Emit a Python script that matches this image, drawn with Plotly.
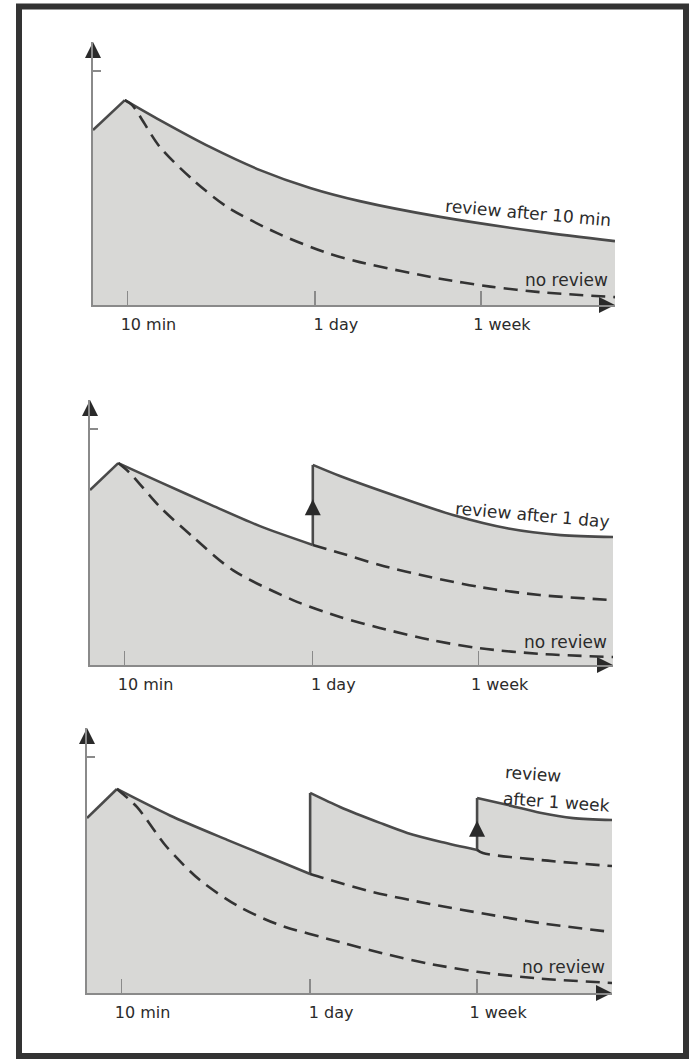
import plotly.graph_objects as go

# ---------------- data (schematic units: x 0..100 along time axis, y 0..100 retention) -------------
tick_x = [6.6, 42.5, 74.3]
tick_labels = ["10 min", "1 day", "1 week"]

# Panel 1: review after 10 min
p1_rise_x = [0, 6.1]
p1_rise_y = [66.5, 77.9]
p1_solid_x = [6.1, 12.8, 22.4, 32.0, 41.6, 51.1, 66.5, 85.6, 100]
p1_solid_y = [77.9, 70.3, 60.1, 51.3, 44.5, 39.5, 33.5, 27.8, 24.3]
p1_none_x = [6.1, 7.5, 12.8, 19.2, 25.7, 35.2, 44.8, 51.1, 66.5, 76.1, 85.6, 100]
p1_none_y = [77.9, 76.0, 60.1, 47.5, 37.3, 27.4, 19.8, 16.3, 10.0, 7.0, 4.9, 3.0]

# Panel 2: review after 1 day
p2_rise_x = [0, 5.4]
p2_rise_y = [66.0, 76.2]
p2_seg1_x = [5.4, 13.4, 22.9, 32.5, 42.6]
p2_seg1_y = [76.2, 69.0, 60.6, 52.4, 45.3]
p2_seg2_x = [42.6, 47.8, 59.3, 69.4, 80.0, 90.0, 100]
p2_seg2_y = [75.5, 71.3, 63.2, 56.6, 51.5, 49.0, 48.3]
p2_cont_x = [42.6, 47.8, 55.4, 65.0, 74.6, 86.0, 100]
p2_cont_y = [45.3, 42.3, 37.7, 33.2, 29.4, 26.4, 24.5]
p2_none_x = [5.4, 7.6, 13.4, 19.7, 27.3, 38.8, 47.8, 55.4, 65.0, 74.6, 86.0, 100]
p2_none_y = [76.2, 72.5, 59.6, 48.3, 35.8, 24.5, 18.1, 14.0, 9.5, 6.3, 4.2, 3.0]

# Panel 3: review after 1 week
p3_rise_x = [0, 5.7]
p3_rise_y = [66.0, 77.0]
p3_seg1_x = [5.7, 15.8, 26.7, 34.3, 42.5]
p3_seg1_y = [77.0, 67.0, 57.8, 51.6, 44.9]
p3_seg2_x = [42.5, 48.2, 55.8, 61.0, 67.5, 74.3]
p3_seg2_y = [75.5, 70.2, 64.2, 60.4, 57.0, 54.0]
p3_seg3_x = [74.3, 80.0, 86.3, 92.6, 100]
p3_seg3_y = [73.6, 71.0, 68.0, 66.0, 65.3]
p3_cont1_x = [42.5, 45.0, 54.5, 65.3, 76.0, 86.3, 100]
p3_cont1_y = [44.9, 43.4, 38.1, 33.6, 29.8, 26.4, 23.0]
p3_cont2_x = [74.3, 75.4, 86.3, 100]
p3_cont2_y = [54.0, 52.8, 50.2, 47.9]
p3_none_x = [5.7, 9.5, 15.2, 21.5, 28.6, 36.2, 48.2, 57.7, 65.3, 74.3, 86.0, 100]
p3_none_y = [77.0, 70.2, 55.1, 42.6, 33.0, 26.0, 19.2, 14.3, 11.0, 8.0, 5.5, 3.8]

# ---------------- styling -------------
W, H = 695, 1059
FILL = "#d8d8d6"
SOLID = "#4a4a4a"
DASH = "#333333"
AXIS = "#8a8a8a"
TXT = "#2b2b2b"
FONT = "DejaVu Sans"

panels = [
    dict(px=(93, 615), py=(305, 42),
         solids=[(p1_rise_x, p1_rise_y, "linear"), (p1_solid_x, p1_solid_y, "spline")],
         jumps=[],
         dashes=[(p1_none_x, p1_none_y)],
         arrows=[],
         labels=[("review after 10 min", 83.3, 35.0, 5), ("no review", 90.8, 9.5, 0)]),
    dict(px=(90, 613), py=(665, 400),
         solids=[(p2_rise_x, p2_rise_y, "linear"), (p2_seg1_x, p2_seg1_y, "spline"),
                 (p2_seg2_x, p2_seg2_y, "spline")],
         jumps=[(p2_seg1_x[-1], p2_seg1_y[-1], p2_seg2_y[0])],
         dashes=[(p2_cont_x, p2_cont_y), (p2_none_x, p2_none_y)],
         arrows=[(p2_seg1_x[-1], 62.5)],
         labels=[("review after 1 day", 84.7, 56.6, 5), ("no review", 91.0, 8.7, 0)]),
    dict(px=(87, 612), py=(993, 728),
         solids=[(p3_rise_x, p3_rise_y, "linear"), (p3_seg1_x, p3_seg1_y, "spline"),
                 (p3_seg2_x, p3_seg2_y, "spline"), (p3_seg3_x, p3_seg3_y, "spline")],
         jumps=[(p3_seg1_x[-1], p3_seg1_y[-1], p3_seg2_y[0]),
                (p3_seg2_x[-1], p3_seg2_y[-1], p3_seg3_y[0])],
         dashes=[(p3_cont2_x, p3_cont2_y), (p3_cont1_x, p3_cont1_y), (p3_none_x, p3_none_y)],
         arrows=[(p3_seg2_x[-1], 65.0)],
         labels=[("review", 85.0, 82.6, 4), ("after 1 week", 89.5, 72.0, 4),
                 ("no review", 90.7, 9.8, 0)]),
]

fig = go.Figure()
annotations = []
layout_axes = {}

for i, p in enumerate(panels, start=1):
    xa = "x" if i == 1 else f"x{i}"
    ya = "y" if i == 1 else f"y{i}"
    for xs, ys, shape in p["solids"]:
        fig.add_trace(go.Scatter(x=xs, y=ys, mode="lines", fill="tozeroy", fillcolor=FILL,
                                 line=dict(color=SOLID, width=2.6, shape=shape, smoothing=0.8),
                                 xaxis=xa, yaxis=ya, showlegend=False, hoverinfo="skip"))
    for jx, y0, y1 in p["jumps"]:
        fig.add_trace(go.Scatter(x=[jx, jx], y=[y0, y1], mode="lines",
                                 line=dict(color=SOLID, width=2.6),
                                 xaxis=xa, yaxis=ya, showlegend=False, hoverinfo="skip"))
    for xs, ys in p["dashes"]:
        fig.add_trace(go.Scatter(x=xs, y=ys, mode="lines",
                                 line=dict(color=DASH, width=2.6, dash="14px,8px",
                                           shape="spline", smoothing=0.8),
                                 xaxis=xa, yaxis=ya, showlegend=False, hoverinfo="skip"))
    for ax_, ay_ in p["arrows"]:
        fig.add_trace(go.Scatter(x=[ax_], y=[ay_], mode="markers",
                                 marker=dict(symbol="arrow-up", size=16, color="#2a2a2a"),
                                 xaxis=xa, yaxis=ya, showlegend=False, hoverinfo="skip",
                                 cliponaxis=False))
    fig.add_trace(go.Scatter(x=[0], y=[100], mode="markers",
                             marker=dict(symbol="arrow-up", size=16, color="#2a2a2a"),
                             xaxis=xa, yaxis=ya, showlegend=False, hoverinfo="skip",
                             cliponaxis=False))
    fig.add_trace(go.Scatter(x=[100], y=[0], mode="markers",
                             marker=dict(symbol="arrow-right", size=16, color="#2a2a2a"),
                             xaxis=xa, yaxis=ya, showlegend=False, hoverinfo="skip",
                             cliponaxis=False))

    x0, x1 = p["px"]
    yb, yt = p["py"]
    layout_axes["xaxis" if i == 1 else f"xaxis{i}"] = dict(
        domain=[x0 / W, x1 / W], range=[0, 100], anchor=ya,
        showgrid=False, zeroline=False, showline=True, linecolor=AXIS, linewidth=1.6,
        ticks="inside", ticklen=14, tickwidth=1.5, tickcolor=AXIS,
        tickvals=tick_x, ticktext=tick_labels, ticklabelstandoff=4, ticklabelshift=21,
        tickfont=dict(family=FONT, size=16, color=TXT), fixedrange=True)
    layout_axes["yaxis" if i == 1 else f"yaxis{i}"] = dict(
        domain=[1 - yb / H, 1 - yt / H], range=[0, 100], anchor=xa,
        showgrid=False, zeroline=False, showline=True, linecolor=AXIS, linewidth=1.6,
        ticks="inside", ticklen=8, tickwidth=1.5, tickcolor=AXIS,
        tickvals=[89], showticklabels=False, fixedrange=True)
    for text, tx, ty, ang in p["labels"]:
        annotations.append(dict(text=text, x=tx, y=ty, xref=xa, yref=ya, showarrow=False,
                                textangle=ang, font=dict(family=FONT, size=17, color=TXT)))

fig.update_layout(
    width=W, height=H, margin=dict(l=0, r=0, t=0, b=0),
    paper_bgcolor="white", plot_bgcolor="rgba(0,0,0,0)",
    annotations=annotations,
    shapes=[dict(type="rect", xref="paper", yref="paper",
                 x0=19 / W, x1=686 / W, y0=1 - 1056 / H, y1=1 - 6.5 / H,
                 line=dict(color="#333333", width=6))],
    **layout_axes,
)

fig.write_html(
    "out.html",
    config={"displayModeBar": False, "staticPlot": True},
    post_script=(
        "document.body.style.margin='0';document.body.style.padding='0';"
        "document.querySelectorAll('.js-fill').forEach(function(p){"
        "p.style.shapeRendering='crispEdges';});"
    ),
)
